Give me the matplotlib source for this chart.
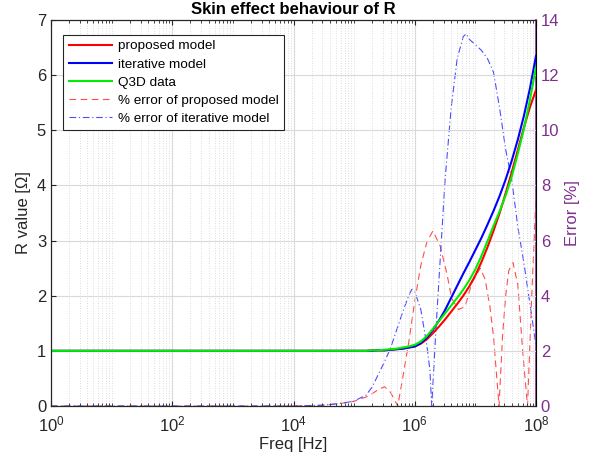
import numpy as np
import matplotlib
matplotlib.use("Agg")
import matplotlib.pyplot as plt
from matplotlib.ticker import LogLocator, FixedLocator, NullFormatter

plt.rcParams['font.family'] = ['Liberation Sans', 'DejaVu Sans']

# ---- data ----
# R curves (shared frequency grid, log10 of Hz)
logf_R = [0, 1, 2, 3, 4, 4.5, 5.0, 5.1, 5.2, 5.3, 5.4, 5.5, 5.6, 5.7, 5.8, 5.9,
          6.0, 6.1, 6.2, 6.3, 6.4, 6.5, 6.6, 6.7, 6.8, 6.9,
          7.0, 7.1, 7.2, 7.3, 7.4, 7.5, 7.6, 7.7, 7.8, 7.9, 8.0]
R_proposed = [1.0, 1.0, 1.0, 1.0, 1.0, 1.0, 1.0, 1.0, 1.0, 1.005, 1.01, 1.01, 1.02, 1.03, 1.04, 1.06,
              1.08, 1.13, 1.21, 1.32, 1.44, 1.57, 1.71, 1.85, 2.00, 2.17,
              2.37, 2.61, 2.88, 3.18, 3.50, 3.86, 4.24, 4.64, 5.05, 5.42, 5.73]
R_iterative = [1.0, 1.0, 1.0, 1.0, 1.0, 1.0, 1.0, 1.0, 1.0, 1.005, 1.01, 1.01, 1.02, 1.03, 1.04, 1.06,
               1.08, 1.14, 1.24, 1.38, 1.55, 1.74, 1.96, 2.18, 2.40, 2.61,
               2.83, 3.05, 3.29, 3.54, 3.81, 4.11, 4.45, 4.83, 5.26, 5.76, 6.35]
R_q3d = [1.0, 1.0, 1.0, 1.0, 1.0, 1.0, 1.0, 1.0, 1.0, 1.01, 1.01, 1.02, 1.03, 1.04, 1.06, 1.08,
         1.11, 1.17, 1.27, 1.40, 1.54, 1.68, 1.82, 1.96, 2.11, 2.28,
         2.48, 2.72, 2.99, 3.27, 3.53, 3.82, 4.16, 4.58, 5.02, 5.55, 6.15]

# error curves (%)
logf_err_prop = [0, 2, 4, 4.5, 4.8, 5.0, 5.2, 5.3, 5.4, 5.5, 5.6, 5.72, 5.8, 5.9,
                 6.0, 6.1, 6.2, 6.3, 6.42, 6.53, 6.61, 6.72, 6.83, 6.94, 7.08,
                 7.16, 7.24, 7.3, 7.39, 7.45, 7.5, 7.55, 7.62, 7.7, 7.78, 7.86, 7.93, 8.0]
err_prop = [0, 0, 0, 0.03, 0.1, 0.17, 0.33, 0.45, 0.6, 0.7, 0.5, 0.0, 1.0, 2.3,
            3.8, 5.1, 5.95, 6.35, 5.8, 4.8, 3.9, 3.5, 3.6, 4.45, 5.0,
            4.6, 3.6, 2.5, 0.0, 2.6, 4.0, 4.9, 5.2, 4.4, 2.0, 0.0, 4.0, 7.6]

logf_err_iter = [0, 2, 4, 4.5, 4.8, 5.0, 5.2, 5.3, 5.4, 5.5, 5.6, 5.7, 5.8, 5.9, 5.95,
                 6.0, 6.1, 6.2, 6.25, 6.28, 6.35, 6.4, 6.5, 6.6, 6.7, 6.8, 6.85,
                 6.9, 7.0, 7.1, 7.2, 7.3, 7.4, 7.5, 7.6, 7.7, 7.8, 7.9, 8.0]
err_iter = [0, 0, 0, 0.03, 0.1, 0.18, 0.4, 0.7, 1.15, 1.6, 2.1, 2.75, 3.4, 4.0, 4.23,
            4.15, 3.5, 2.2, 1.3, 0.0, 2.8, 4.6, 8.2, 10.8, 12.6, 13.4, 13.5,
            13.3, 13.1, 12.9, 12.6, 12.1, 10.8, 9.3, 8.2, 6.5, 5.2, 3.7, 2.2]

purple = (0.494, 0.184, 0.556)
dark = (0.15, 0.15, 0.15)

fig = plt.figure(figsize=(5.98, 4.63), dpi=100)
ax = fig.add_axes([51/598, 57/463, 485/598, 386/463])
ax2 = ax.twinx()

fR = 10 ** np.array(logf_R)
l1, = ax.plot(fR, R_proposed, color='red', lw=1.5, label='proposed model')
l2, = ax.plot(fR, R_iterative, color='blue', lw=1.5, label='iterative model')
l3, = ax.plot(fR, R_q3d, color='#00ee00', lw=1.5, label='Q3D data')

l4, = ax2.plot(10 ** np.array(logf_err_prop), err_prop, color=(1, 0.3, 0.3), lw=0.8,
               ls=(0, (6, 4)), label='% error of proposed model')
l5, = ax2.plot(10 ** np.array(logf_err_iter), err_iter, color=(0.3, 0.3, 1), lw=0.8,
               ls=(0, (6, 2.5, 1, 2.5)), label='% error of iterative model')

ax.set_xscale('log')
ax.set_xlim(1, 1e8)
ax.set_ylim(0, 7)
ax2.set_ylim(0, 14)

ax.xaxis.set_major_locator(FixedLocator([1, 1e2, 1e4, 1e6, 1e8]))
ax.xaxis.set_minor_locator(LogLocator(base=10, subs=np.arange(1, 10), numticks=100))
ax.xaxis.set_minor_formatter(NullFormatter())
ax.set_yticks(range(0, 8))
ax2.set_yticks(range(0, 15, 2))

ax.grid(True, which='major', color=(0.85, 0.85, 0.85), lw=0.8)
ax.grid(True, which='minor', axis='x', color=(0.82, 0.82, 0.82), lw=0.6, ls=(0, (1, 2)))
ax.set_axisbelow(True)

ax.tick_params(axis='both', which='both', direction='in', top=True, labelsize=12,
               colors=dark, labelcolor=dark)
ax.tick_params(axis='y', right=False)
ax.tick_params(axis='x', which='major', pad=6)
ax2.tick_params(axis='y', direction='in', colors=purple, labelcolor=purple, labelsize=12)

for s in ['left', 'top', 'bottom']:
    ax.spines[s].set_color(dark)
ax2.spines['right'].set_color(purple)
ax2.spines['right'].set_linewidth(1.2)

ax.set_xlabel('Freq [Hz]', fontsize=12, color=dark, labelpad=2)
ax.set_ylabel('R value [Ω]', fontsize=12, color=dark)
ax2.set_ylabel('Error [%]', fontsize=12, color=purple)
ax.set_title('Skin effect behaviour of R', fontsize=12, fontweight='bold', pad=4)

leg = ax.legend(handles=[l1, l2, l3, l4, l5], loc='upper left',
                bbox_to_anchor=(0.025, 0.962), fontsize=9.7, frameon=True,
                fancybox=False, edgecolor=dark, framealpha=1,
                handlelength=3.2, borderpad=0.4, labelspacing=0.42, handletextpad=0.5,
                borderaxespad=0)
leg.get_frame().set_linewidth(0.8)
ax2.set_zorder(1)
ax.set_zorder(2)
ax.patch.set_visible(False)

fig.savefig('out.png', dpi=100)
